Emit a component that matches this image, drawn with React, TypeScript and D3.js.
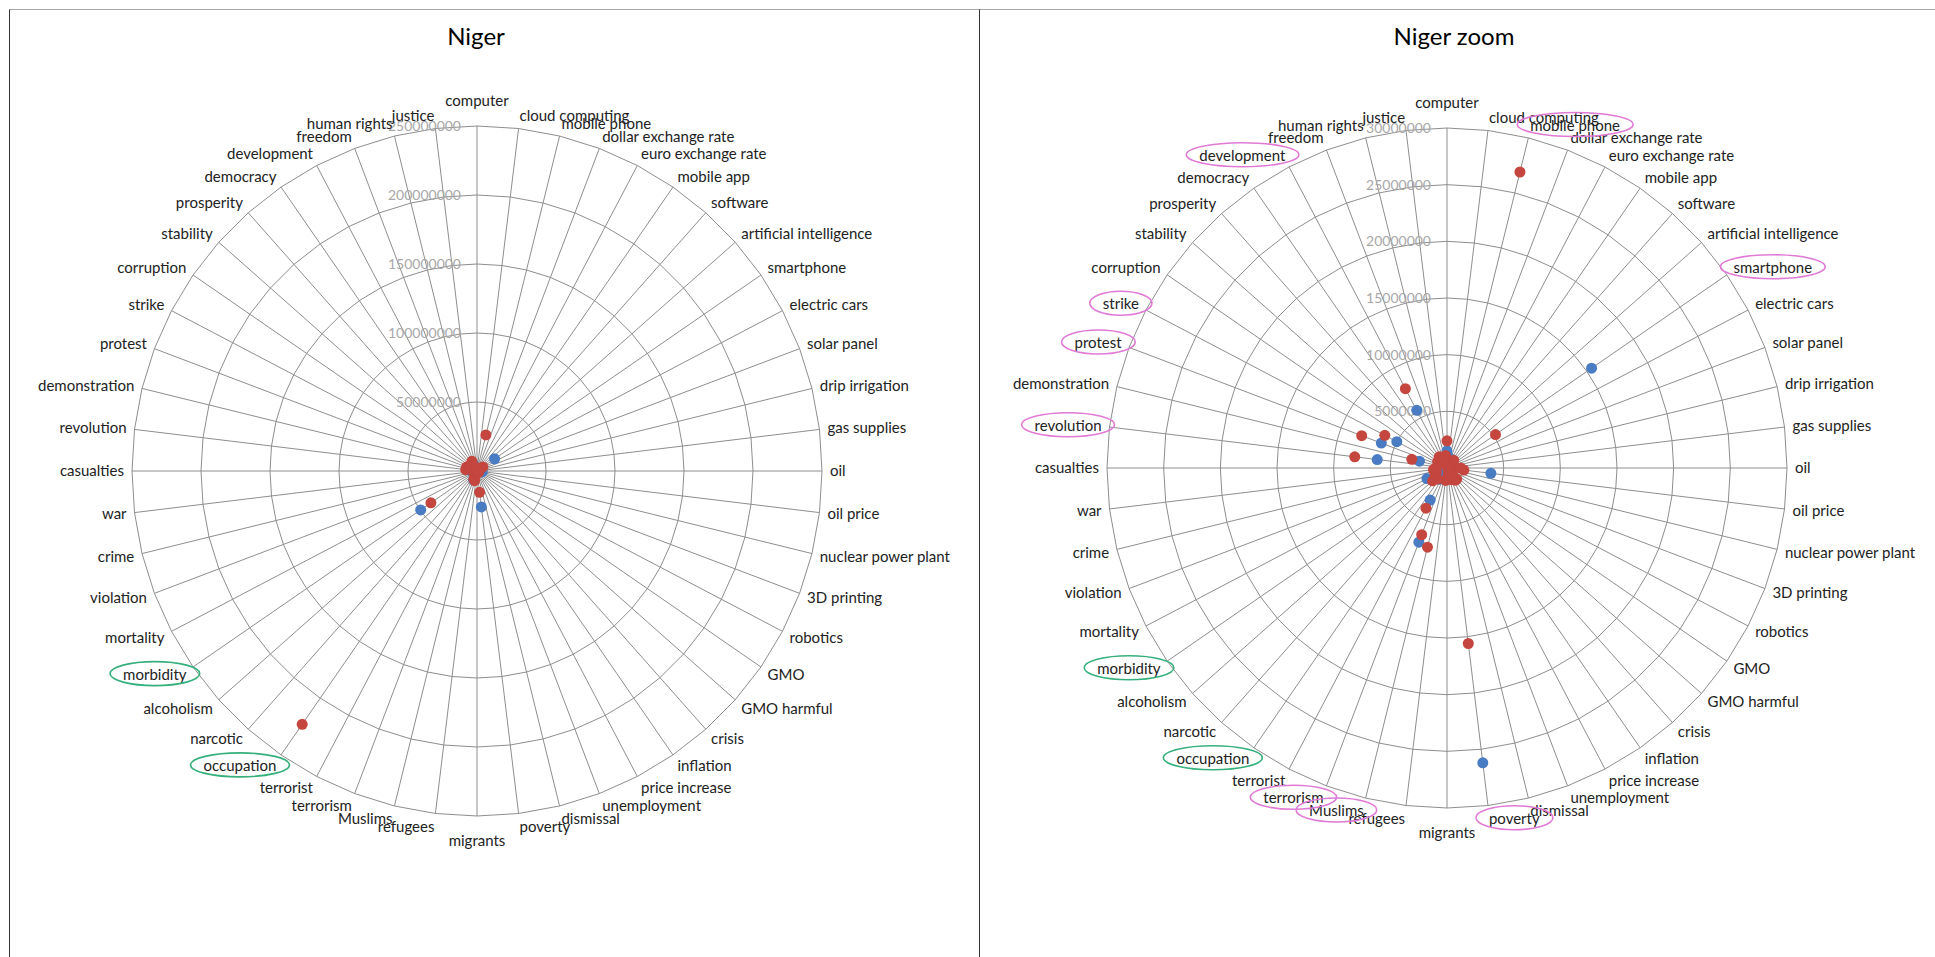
import React, { useEffect, useRef } from "react";
import * as d3 from "d3";

const categories = [
  "computer", "cloud computing", "mobile phone", "dollar exchange rate", "euro exchange rate",
  "mobile app", "software", "artificial intelligence", "smartphone", "electric cars",
  "solar panel", "drip irrigation", "gas supplies", "oil", "oil price",
  "nuclear power plant", "3D printing", "robotics", "GMO", "GMO harmful",
  "crisis", "inflation", "price increase", "unemployment", "dismissal",
  "poverty", "migrants", "refugees", "Muslims", "terrorism",
  "terrorist", "occupation", "narcotic", "alcoholism", "morbidity",
  "mortality", "violation", "crime", "war", "casualties",
  "revolution", "demonstration", "protest", "strike", "corruption",
  "stability", "prosperity", "democracy", "development", "freedom",
  "human rights", "justice",
];

// values in millions
const blueSeries = [
  1.5, 0.4, 0.9, 0.2, 0.1, 0.1, 0.3, 0.1, 15.5, 0.05,
  0.2, 0.05, 0.1, 0.7, 3.9, 0.1, 0.05, 0.05, 0.05, 0.02,
  0.4, 0.3, 0.2, 0.3, 0.1, 26.2, 0.4, 0.5, 1.0, 7.0,
  3.2, 1.2, 0.4, 0.6, 49.6, 2.0, 0.4, 0.3, 0.5, 0.3,
  6.2, 2.5, 6.2, 5.0, 0.3, 0.3, 0.1, 0.4, 5.75, 0.4,
  0.3, 0.4,
];
const redSeries = [
  2.4, 0.7, 26.9, 0.6, 0.5, 0.4, 0.9, 0.3, 5.2, 0.3,
  0.6, 0.2, 0.5, 1.2, 1.5, 0.6, 0.3, 0.3, 0.3, 0.1,
  1.3, 1.3, 0.9, 1.1, 0.5, 15.6, 0.9, 1.1, 7.2, 6.3,
  4.0, 223, 1.3, 1.7, 40.6, 1.2, 1.0, 1.1, 1.2, 1.0,
  8.2, 3.2, 8.05, 6.2, 1.0, 0.9, 0.5, 1.2, 7.9, 1.0,
  0.9, 1.1,
];

const fullTicks = [50000000, 100000000, 150000000, 200000000, 250000000];
const zoomTicks = [5000000, 10000000, 15000000, 20000000, 25000000, 30000000];

const greenMarked = ["morbidity", "occupation"];
const pinkMarked = ["mobile phone", "smartphone", "development", "strike", "protest", "revolution", "terrorism", "Muslims", "poverty"];

const BLUE = "#4a7cc4";
const RED = "#c4463f";
const GRID = "#8e8e8e";
const FONT = "Lato, 'Open Sans', sans-serif";

type Cfg = {
  cx: number; cy: number; R: number; max: number; ticks: number[];
  title: string; titleX: number; pinks: string[]; greens: string[];
};

function drawRadar(svg: d3.Selection<SVGSVGElement, unknown, null, undefined>, cfg: Cfg) {
  const { cx, cy, R, max, ticks, title, titleX, pinks, greens } = cfg;
  const n = categories.length;
  const r = d3.scaleLinear().domain([0, max]).range([0, R]);
  const ang = d3.scaleLinear().domain([0, n]).range([0, 2 * Math.PI]);
  const g = svg.append("g");

  g.append("text")
    .attr("x", titleX).attr("y", 45)
    .attr("text-anchor", "middle")
    .style("font-family", FONT).style("font-size", "24px").attr("fill", "#000")
    .text(title);

  const grid = g.append("g").attr("transform", `translate(${cx},${cy})`);
  const ring = d3.lineRadial<number>()
    .angle((_, i) => ang(i))
    .curve(d3.curveLinearClosed);
  ticks.forEach((t) => {
    grid.append("path")
      .attr("d", ring.radius(() => r(t))(d3.range(n)) as string)
      .attr("fill", "none").attr("stroke", GRID).attr("stroke-width", 1);
  });
  categories.forEach((_, i) => {
    const a = ang(i);
    grid.append("line")
      .attr("x1", 0).attr("y1", 0)
      .attr("x2", R * Math.sin(a)).attr("y2", -R * Math.cos(a))
      .attr("stroke", GRID).attr("stroke-width", 1);
  });

  // value axis labels
  ticks.forEach((t) => {
    grid.append("text")
      .attr("x", -16).attr("y", -r(t)).attr("dy", "0.35em")
      .attr("text-anchor", "end")
      .style("font-family", FONT).style("font-size", "14px")
      .attr("fill", "#a8a8a8")
      .text(String(t));
  });

  // category labels
  const labelNodes: Record<string, SVGTextElement> = {};
  categories.forEach((c, i) => {
    const a = ang(i);
    const s = Math.sin(a), co = Math.cos(a);
    const gap = 8;
    let x = (R + gap) * s;
    let y = -(R + gap) * co;
    let anchor = "middle";
    if (s > 0.05) anchor = "start";
    else if (s < -0.05) anchor = "end";
    else y -= 12 * co;
    y -= 5 * co;
    const t = grid.append("text")
      .attr("x", x).attr("y", y).attr("dy", "0.35em")
      .attr("text-anchor", anchor)
      .style("font-family", FONT).style("font-size", "15px")
      .attr("fill", "#222")
      .text(c);
    labelNodes[c] = t.node() as SVGTextElement;
  });

  // points
  const pts = grid.append("g");
  const drawSeries = (vals: number[], color: string) => {
    vals.forEach((v, i) => {
      const val = v * 1e6;
      if (val > max) return;
      const a = ang(i);
      pts.append("circle")
        .attr("cx", r(val) * Math.sin(a))
        .attr("cy", -r(val) * Math.cos(a))
        .attr("r", 5.5)
        .attr("fill", color);
    });
  };
  drawSeries(blueSeries, BLUE);
  drawSeries(redSeries, RED);

  // annotation ellipses
  const mark = (names: string[], color: string) => {
    names.forEach((nm) => {
      const node = labelNodes[nm];
      if (!node) return;
      const b = node.getBBox();
      grid.append("ellipse")
        .attr("cx", b.x + b.width / 2).attr("cy", b.y + b.height / 2)
        .attr("rx", b.width / 2 + 13).attr("ry", 12)
        .attr("fill", "none").attr("stroke", color).attr("stroke-width", 1.6);
    });
  };
  mark(greens, "#35b07c");
  mark(pinks, "#e07ad6");
}

export default function App() {
  const ref = useRef<SVGSVGElement>(null);
  useEffect(() => {
    document.body.style.margin = "0";
    const svg = d3.select(ref.current as SVGSVGElement);
    svg.selectAll("*").remove();
    svg.append("rect").attr("x", 0).attr("y", 0).attr("width", 1935).attr("height", 957).attr("fill", "#fff");
    // table borders
    svg.append("line").attr("x1", 9.5).attr("y1", 9.5).attr("x2", 1935).attr("y2", 9.5).attr("stroke", "#a6a6a6");
    svg.append("line").attr("x1", 9.5).attr("y1", 9.5).attr("x2", 9.5).attr("y2", 957).attr("stroke", "#333");
    svg.append("line").attr("x1", 979.5).attr("y1", 9.5).attr("x2", 979.5).attr("y2", 957).attr("stroke", "#333");

    drawRadar(svg, {
      cx: 477, cy: 471, R: 345, max: 250000000, ticks: fullTicks,
      title: "Niger", titleX: 476, pinks: [], greens: greenMarked,
    });
    drawRadar(svg, {
      cx: 1447, cy: 468, R: 340, max: 30000000, ticks: zoomTicks,
      title: "Niger zoom", titleX: 1454, pinks: pinkMarked, greens: greenMarked,
    });
  }, []);
  return <svg ref={ref} width={1935} height={957} style={{ display: "block" }} />;
}
